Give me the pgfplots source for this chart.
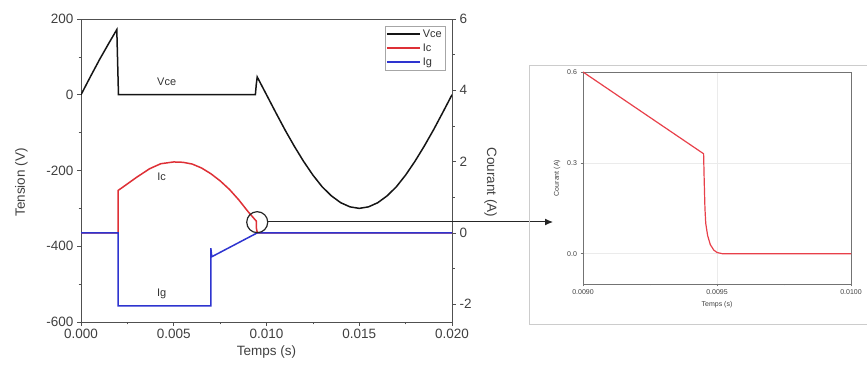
\documentclass[border=0pt]{standalone}
\usepackage{fontspec}
\setmainfont{Liberation Sans}
\usepackage{pgfplots}
\pgfplotsset{compat=1.18}
\usetikzlibrary{arrows.meta}
\definecolor{vce}{HTML}{151515}
\definecolor{ic}{HTML}{DE3036}
\definecolor{ig}{HTML}{2E34CF}
\definecolor{insetred}{HTML}{E8404A}
\definecolor{axgray}{HTML}{505050}
\begin{document}
\begin{tikzpicture}[x=1pt,y=1pt]
\useasboundingbox (0,0) rectangle (867,379);
\pgfplotsset{
  common/.style={
    scale only axis,
    /pgf/number format/assume math mode=true,
    tick align=outside,
    axis line style={axgray, line width=0.8pt},
    every tick/.style={axgray, line width=0.7pt},
    ticklabel style={text=black!75},
    label style={text=black!75},
  }
}
% ---------------- main axis, left (Tension)
\begin{axis}[common,
  at={(81pt,57pt)}, anchor=south west,
  width=371pt, height=303pt,
  xmin=0, xmax=0.02, ymin=-600, ymax=200,
  axis y line*=left,
  xtick={0,0.005,0.01,0.015,0.02},
  ytick={-600,-400,-200,0,200},
  xtick pos=bottom, ytick pos=left,
  minor x tick num=1, minor y tick num=1,
  major tick length=4pt, minor tick length=2.5pt,
  scaled x ticks=false,
  xticklabel style={/pgf/number format/.cd, fixed, fixed zerofill, precision=3},
  ticklabel style={font=\fontsize{13.5}{15}\selectfont},
  label style={font=\fontsize{13.5}{16}\selectfont},
  xlabel={Temps (s)}, ylabel={Tension (V)},
  ylabel style={xshift=-12pt, yshift=12pt},
]
\addplot[vce, line width=1.5pt] coordinates {
(0,0) (0.0005,47) (0.001,93) (0.0015,136) (0.00193,172) (0.00202,0)
(0.0094,0) (0.00945,28) (0.0095,47) (0.0100,0) (0.0105,-47) (0.011,-93)
(0.0115,-136) (0.012,-176) (0.0125,-212) (0.013,-243) (0.0135,-267)
(0.014,-285) (0.0145,-296) (0.015,-300) (0.0155,-296) (0.016,-285)
(0.0165,-267) (0.017,-243) (0.0175,-212) (0.018,-176) (0.0185,-136)
(0.019,-93) (0.0195,-47) (0.02,0)
};
\node[font=\fontsize{11}{13}\selectfont, text=black!80] at (axis cs:0.00462,34) {Vce};
\end{axis}
% ---------------- main axis, right (Courant)
\begin{axis}[common,
  at={(81pt,57pt)}, anchor=south west,
  width=371pt, height=303pt,
  xmin=0, xmax=0.02, ymin=-2.5, ymax=6,
  axis y line*=right, axis x line=none,
  ytick={-2,0,2,4,6}, minor y tick num=1,
  ytick pos=right,
  major tick length=4pt, minor tick length=2.5pt,
  ticklabel style={font=\fontsize{13.5}{15}\selectfont},
  label style={font=\fontsize{13.5}{16}\selectfont},
  ylabel={Courant (A)},
  ylabel style={rotate=180, xshift=12pt, yshift=6pt},
  legend style={at={(0.981,0.977)}, anchor=north east, draw=black!35,
    fill=white, font=\fontsize{11}{13}\selectfont, text=black!80,
    inner xsep=1pt, inner ysep=1.5pt, row sep=1pt},
  legend cell align=left,
  legend image code/.code={\draw[#1] (0pt,0pt) -- (33pt,0pt);},
]
\addlegendimage{vce, line width=1.8pt}
\addlegendentry{Vce}
\addlegendimage{ic, line width=1.8pt}
\addlegendentry{Ic}
\addlegendimage{ig, line width=1.8pt}
\addlegendentry{Ig}
\addplot[ic, line width=1.5pt, forget plot] coordinates {
(0,0) (0.002,0) (0.002,1.19) (0.0023,1.30) (0.003,1.56) (0.0037,1.80)
(0.0043,1.94) (0.005,1.99) (0.0055,1.98) (0.006,1.93) (0.0065,1.82)
(0.007,1.66) (0.0075,1.46) (0.008,1.22) (0.0085,0.93) (0.009,0.6)
(0.00945,0.33) (0.00946,0.12) (0.0095,0.01) (0.0096,0) (0.02,0)
};
\addplot[ig, line width=1.5pt, forget plot] coordinates {
(0,0) (0.002,0) (0.002,-2.05) (0.007,-2.05) (0.007,-0.43) (0.00705,-0.67)
(0.0095,0) (0.02,0)
};
\node[font=\fontsize{11}{13}\selectfont, text=black!80] at (axis cs:0.00435,1.58) {Ic};
\node[font=\fontsize{11}{13}\selectfont, text=black!80] at (axis cs:0.00435,-1.72) {Ig};
\draw[black!85, line width=1.2pt] (axis cs:0.0095,0.3) circle[radius=10.5pt];
\end{axis}
% ---------------- arrow to inset
\draw[black!85, line width=1pt, -{Latex[length=8pt,width=7pt]}] (267.7,157) -- (553,157);
% ---------------- inset frame
\draw[black!20, line width=0.6pt] (529,55) -- (529,314) -- (867,314);
\draw[black!20, line width=0.6pt] (529,55) -- (867,55);
% ---------------- inset
\begin{axis}[common,
  at={(583pt,95pt)}, anchor=south west,
  width=268pt, height=212pt,
  xmin=0.009, xmax=0.010, ymin=-0.1, ymax=0.6,
  xtick={0.009,0.0095,0.01}, ytick={0,0.3,0.6},
  minor x tick num=1,
  xtick pos=bottom, ytick pos=left,
  major tick length=2.5pt, minor tick length=1.5pt,
  axis line style={black!55, line width=0.7pt},
  every tick/.style={black!55, line width=0.5pt},
  grid=major, grid style={black!8, line width=0.5pt},
  scaled x ticks=false, scaled y ticks=false,
  xticklabel style={/pgf/number format/.cd, fixed, fixed zerofill, precision=4},
  yticklabel style={/pgf/number format/.cd, fixed, fixed zerofill, precision=1},
  ticklabel style={font=\fontsize{7}{8}\selectfont},
  label style={font=\fontsize{7}{8}\selectfont},
  xlabel={Temps (s)}, ylabel={Courant (A)},
]
\addplot[insetred, line width=1.2pt] coordinates {
(0.009,0.6) (0.00945,0.33) (0.009452,0.25) (0.009455,0.15) (0.009458,0.10)
(0.009465,0.06) (0.009475,0.03) (0.009488,0.012) (0.0095,0.004)
(0.00952,0) (0.010,0)
};
\end{axis}
\end{tikzpicture}
\end{document}
